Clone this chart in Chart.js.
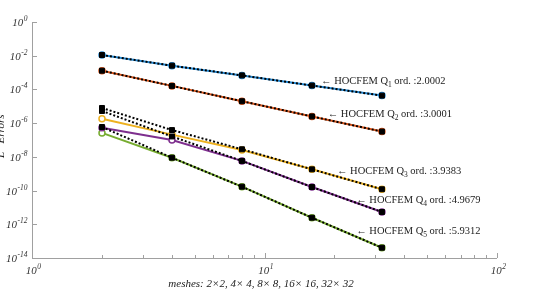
<!DOCTYPE html>
<html>
<head>
<meta charset="utf-8">
<script src="https://cdn.jsdelivr.net/npm/chart.js@4"></script>
<style>
  html, body { margin: 0; padding: 0; background: #fff; }
  #wrap { width: 554px; height: 290px; }
</style>
</head>
<body>
<div id="wrap"><canvas id="errChart"></canvas></div>
<script>
// mesh sizes (n for n x n meshes)
const meshes = [2, 4, 8, 16, 32];

// computed L2 errors (coloured, circles)
const errQ1 = [1.10e-2, 2.57e-3, 6.8e-4, 1.7e-4, 4.3e-5];
const errQ2 = [1.29e-3, 1.62e-4, 2.0e-5, 2.5e-6, 3.16e-7];
const errQ3 = [1.82e-6, 2.09e-7, 2.57e-8, 1.82e-9, 1.20e-10];
const errQ4 = [5.37e-7, 1.0e-7, 5.75e-9, 1.62e-10, 5.37e-12];
const errQ5 = [2.63e-7, 8.91e-9, 1.70e-10, 2.45e-12, 4.07e-14];

// HOCFEM errors (black dotted, squares)
const hocQ1 = [1.10e-2, 2.57e-3, 6.8e-4, 1.7e-4, 4.3e-5];
const hocQ2 = [1.29e-3, 1.62e-4, 2.0e-5, 2.5e-6, 3.16e-7];
const hocQ3 = [7.94e-6, 3.89e-7, 2.82e-8, 1.82e-9, 1.20e-10];
const hocQ4 = [5.25e-6, 1.62e-7, 5.75e-9, 1.62e-10, 5.37e-12];
const hocQ5 = [5.89e-7, 8.91e-9, 1.70e-10, 2.45e-12, 4.07e-14];

const orders = ['2.0002', '3.0001', '3.9383', '4.9679', '5.9312'];
const xTicks = [1, 10, 100];
const yTicks = [1, 1e-2, 1e-4, 1e-6, 1e-8, 1e-10, 1e-12, 1e-14];

const colors = ['#2389d4', '#D95319', '#EDB120', '#7E2F8E', '#77AC30'];

function pts(arr) {
    return arr.map((v, i) => ({ x: meshes[i], y: v }));
}

const errSets = [errQ1, errQ2, errQ3, errQ4, errQ5];
const hocSets = [hocQ1, hocQ2, hocQ3, hocQ4, hocQ5];

let datasets = [];
errSets.forEach((arr, i) => {
    datasets.push({
        data: pts(arr),
        order: 2,
        borderColor: colors[i],
        backgroundColor: '#fff',
        borderWidth: 2,
        pointStyle: 'circle',
        pointRadius: 3,
        pointBorderWidth: 1.5,
        tension: 0
    });
});
hocSets.forEach(arr => {
    datasets.push({
        data: pts(arr),
        order: 1,
        borderColor: '#000',
        backgroundColor: '#000',
        borderWidth: 2,
        borderDash: [2, 2],
        pointStyle: 'rect',
        pointRadius: 3.5,
        pointBorderWidth: 1,
        tension: 0
    });
});

// label anchors in data coords (x mesh, log10 err)
const labelPos = [[17.5, -3.44], [18.7, -5.4], [20.5, -8.8], [24.8, -10.5], [24.8, -12.35]];

const serif = '"Liberation Serif", "DejaVu Serif", serif';

function pow10(ctx, exp, x, y, align) {
    ctx.font = 'italic 11px ' + serif;
    const bw = ctx.measureText('10').width;
    ctx.font = 'italic 7.5px ' + serif;
    const ew = ctx.measureText(String(exp)).width;
    let left = x;
    if (align === 'right') left = x - bw - ew;
    else if (align === 'center') left = x - (bw + ew) / 2;
    ctx.font = 'italic 11px ' + serif;
    ctx.textAlign = 'left';
    ctx.textBaseline = 'alphabetic';
    ctx.fillText('10', left, y);
    ctx.font = 'italic 7.5px ' + serif;
    ctx.fillText(String(exp), left + bw + 0.5, y - 5);
}

const axesPlugin = {
    id: 'axesPlugin',
    afterDraw(chart) {
        const ctx = chart.ctx;
        const xs = chart.scales.x, ys = chart.scales.y;
        const a = chart.chartArea;
        ctx.save();
        ctx.strokeStyle = '#a0a0a0';
        ctx.lineWidth = 1;
        ctx.beginPath();
        ctx.moveTo(a.left + 0.5, a.top);
        ctx.lineTo(a.left + 0.5, a.bottom + 0.5);
        ctx.lineTo(a.right, a.bottom + 0.5);
        ctx.stroke();

        // x ticks (major + minor), inside
        ctx.beginPath();
        for (let d = 1; d < 100; d *= 10) {
            for (let m = 1; m <= 10; m++) {
                const px = Math.round(xs.getPixelForValue(d * m)) + 0.5;
                const len = (m === 1 || m === 10) ? 5 : 3;
                ctx.moveTo(px, a.bottom);
                ctx.lineTo(px, a.bottom - len);
            }
        }
        yTicks.forEach(v => {
            const py = Math.round(ys.getPixelForValue(v)) + 0.5;
            ctx.moveTo(a.left, py);
            ctx.lineTo(a.left + 5, py);
        });
        ctx.stroke();

        ctx.fillStyle = '#333';
        yTicks.forEach(v => {
            const py = ys.getPixelForValue(v);
            pow10(ctx, Math.round(Math.log10(v)), a.left - 5, py + 4, 'right');
        });
        xTicks.forEach(v => {
            const px = xs.getPixelForValue(v);
            pow10(ctx, Math.round(Math.log10(v)), px + 1, a.bottom + 16, 'center');
        });

        // x title
        ctx.font = 'italic 11px ' + serif;
        ctx.textAlign = 'center';
        ctx.textBaseline = 'alphabetic';
        ctx.fillStyle = '#222';
        ctx.fillText('meshes: 2\u00d72, 4\u00d7 4, 8\u00d7 8, 16\u00d7 16, 32\u00d7 32', 261, 287);

        // y title (partly clipped at left edge)
        ctx.save();
        ctx.translate(4, 133);
        ctx.rotate(-Math.PI / 2);
        ctx.textAlign = 'center';
        ctx.font = 'italic 11px ' + serif;
        ctx.fillText('L', -22, 0);
        ctx.font = 'italic 7.5px ' + serif;
        ctx.fillText('2', -16, -5);
        ctx.font = 'italic 11px ' + serif;
        ctx.fillText('Errors', 4, 0);
        ctx.restore();

        // annotations
        ctx.fillStyle = '#222';
        labelPos.forEach((p, i) => {
            let x = xs.getPixelForValue(p[0]);
            const y = ys.getPixelForValue(Math.pow(10, p[1])) + 4;
            ctx.textAlign = 'left';
            ctx.font = '10.5px ' + serif;
            let s = '\u2190 HOCFEM Q';
            ctx.fillText(s, x, y);
            x += ctx.measureText(s).width;
            ctx.font = '7.5px ' + serif;
            ctx.fillText(String(i + 1), x, y + 3);
            x += ctx.measureText(String(i + 1)).width + 2.5;
            ctx.font = '10.5px ' + serif;
            ctx.fillText('ord. :' + orders[i], x, y);
        });
        ctx.restore();
    }
};

new Chart('errChart', {
    type: 'line',
    data: { datasets },
    options: {
        responsive: true,
        maintainAspectRatio: false,
        animation: false,
        layout: { padding: { left: 32, right: 57, top: 22, bottom: 32 } },
        plugins: { legend: { display: false }, tooltip: { enabled: false } },
        scales: {
            x: { type: 'logarithmic', min: 1, max: 100, display: false },
            y: { type: 'logarithmic', min: 1e-14, max: 1, display: false }
        }
    },
    plugins: [axesPlugin]
});
</script>
</body>
</html>
